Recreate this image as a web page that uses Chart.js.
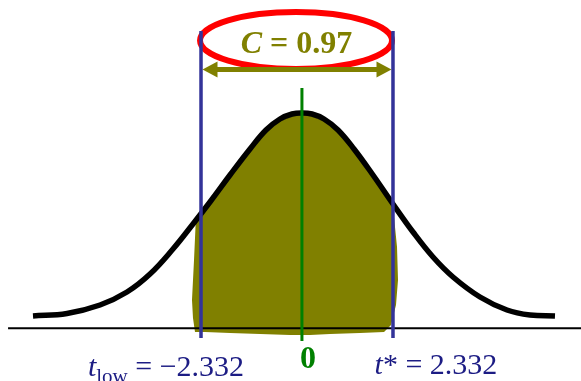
<!DOCTYPE html>
<html><head><meta charset="utf-8">
<script src="https://cdn.jsdelivr.net/npm/chart.js@4"></script>
<style>html,body{margin:0;padding:0;background:#fff;overflow:hidden}#wrap{width:581px;height:381px;position:relative}</style>
</head><body><div id="wrap"><canvas id="c"></canvas></div>
<script>
// ---- data (x in t units, y in density units) ----
const curveT = [-6.414,-5.588,-4.786,-4.130,-3.571,-3.013,-2.527,-2.114,-1.628,-1.142,-0.753,-0.413,-0.121,0.121,0.364,0.656,0.996,1.385,1.846,2.332,2.818,3.304,3.790,4.446,5.102,5.661,6.268];
const curveY = [0.0229,0.0275,0.0433,0.0675,0.1009,0.1474,0.1939,0.2348,0.2849,0.3333,0.3686,0.3890,0.3983,0.4002,0.3983,0.3890,0.3686,0.3333,0.2849,0.2310,0.1790,0.1325,0.0954,0.0582,0.0340,0.0247,0.0229];
const shadeT = [-2.478,-2.527,-2.551,-2.502,-2.454,-2.332,-2.114,-1.628,-1.142,-0.753,-0.413,-0.121,0.121,0.364,0.656,0.996,1.385,1.846,2.332,2.430,2.454,2.405,2.284,2.114,1.531,0.802,0.316,-0.170,-0.899,-1.628,-2.235,-2.478];
const shadeY = [-0.0069,0.0192,0.0526,0.1269,0.2087,0.2124,0.2310,0.2812,0.3296,0.3649,0.3853,0.3946,0.3965,0.3946,0.3853,0.3649,0.3296,0.2812,0.2255,0.1511,0.0898,0.0433,0.0061,-0.0069,-0.0087,-0.0106,-0.0124,-0.0124,-0.0106,-0.0087,-0.0069,-0.0069];
const tLow = -2.332, tStar = 2.332, tZero = 0.12;
const confidence = '0.97';
const tickLabels = ['\u2212' + '2.332', '0', '2.332'];
const labelT = [-3.183, 0.267, 3.377];
const labelY = [-0.0887, -0.0738, -0.0849];
const axisStartT = -7.02;
const markTopY = 0.5526, markBottomY = -0.018;
const zeroTopY = 0.4467, zeroBottomY = -0.0236;
const arrowY = 0.4810;
const ellipse = {t: -0.024, y: 0.5349, rt: 2.332, ry: 0.053};
const cLabel = {t: -0.012, y: 0.5111};

const X_MIN = -7.2157, X_MAX = 6.8999, Y_MIN = -0.09796, Y_MAX = 0.61022;

const zip = (xs, ys) => xs.map((x, i) => ({x, y: ys[i]}));
const SERIF = '"Liberation Serif","Times New Roman",serif';
const OLIVE = '#808000', BLUE = '#333399', NAVY = '#1c1c84', GREEN = '#008000';

function drawParts(ctx, parts, cx, baseY, color) {
  let total = 0;
  parts.forEach(p => { ctx.font = p.font; p.w = ctx.measureText(p.text).width; total += p.w; });
  let x = cx - total / 2;
  ctx.fillStyle = color;
  ctx.textBaseline = 'alphabetic';
  ctx.textAlign = 'left';
  parts.forEach(p => { ctx.font = p.font; ctx.fillText(p.text, x, baseY + (p.dy || 0)); x += p.w; });
}

const decor = {
  id: 'decor',
  beforeDatasetsDraw(chart) {
    const {ctx, scales: {x, y}} = chart;
    ctx.save();
    const cx = x.getPixelForValue(ellipse.t), cy = y.getPixelForValue(ellipse.y);
    const rx = Math.abs(x.getPixelForValue(ellipse.t + ellipse.rt) - cx);
    const ry = Math.abs(y.getPixelForValue(ellipse.y + ellipse.ry) - cy);
    ctx.beginPath();
    ctx.ellipse(cx, cy, rx, ry, 0, 0, Math.PI * 2);
    ctx.strokeStyle = '#ff0000';
    ctx.lineWidth = 6;
    ctx.stroke();
    const ax1 = x.getPixelForValue(tLow) + 1.5, ax2 = x.getPixelForValue(tStar) - 1.5, ay = y.getPixelForValue(arrowY);
    const hl = 15, hw = 8;
    ctx.strokeStyle = OLIVE; ctx.fillStyle = OLIVE; ctx.lineWidth = 5;
    ctx.beginPath(); ctx.moveTo(ax1 + hl - 2, ay); ctx.lineTo(ax2 - hl + 2, ay); ctx.stroke();
    ctx.beginPath(); ctx.moveTo(ax1, ay); ctx.lineTo(ax1 + hl, ay - hw); ctx.lineTo(ax1 + hl, ay + hw); ctx.closePath(); ctx.fill();
    ctx.beginPath(); ctx.moveTo(ax2, ay); ctx.lineTo(ax2 - hl, ay - hw); ctx.lineTo(ax2 - hl, ay + hw); ctx.closePath(); ctx.fill();
    ctx.restore();
  },
  afterDatasetsDraw(chart) {
    const {ctx, scales: {x, y}} = chart;
    ctx.save();
    drawParts(ctx, [
      {text: 'C', font: 'italic bold 32px ' + SERIF},
      {text: ' = ' + confidence, font: 'bold 32px ' + SERIF}
    ], x.getPixelForValue(cLabel.t), y.getPixelForValue(cLabel.y), OLIVE);
    drawParts(ctx, [
      {text: 't', font: 'italic 30px ' + SERIF},
      {text: 'low', font: '21px ' + SERIF, dy: 7},
      {text: ' = ' + tickLabels[0], font: '30px ' + SERIF}
    ], x.getPixelForValue(labelT[0]), y.getPixelForValue(labelY[0]), NAVY);
    drawParts(ctx, [
      {text: tickLabels[1], font: 'bold 32px ' + SERIF}
    ], x.getPixelForValue(labelT[1]), y.getPixelForValue(labelY[1]), GREEN);
    drawParts(ctx, [
      {text: 't', font: 'italic 30px ' + SERIF},
      {text: '* = ' + tickLabels[2], font: '30px ' + SERIF}
    ], x.getPixelForValue(labelT[2]), y.getPixelForValue(labelY[2]), NAVY);
    ctx.restore();
  }
};

new Chart(document.getElementById('c'), {
  type: 'line',
  data: {
    datasets: [
      {label: 'zero', data: [{x: tZero, y: zeroTopY}, {x: tZero, y: zeroBottomY}], borderColor: GREEN, borderWidth: 3, pointRadius: 0, order: 1, fill: false},
      {label: 'tStar', data: [{x: tStar, y: markTopY}, {x: tStar, y: markBottomY}], borderColor: BLUE, borderWidth: 3.5, pointRadius: 0, order: 2, fill: false},
      {label: 'tLow', data: [{x: tLow, y: markTopY}, {x: tLow, y: markBottomY}], borderColor: BLUE, borderWidth: 3.5, pointRadius: 0, order: 2, fill: false},
      {label: 'density', data: zip(curveT, curveY), borderColor: '#000', borderWidth: 5.5, borderCapStyle: 'butt', pointRadius: 0, tension: 0.4, order: 3, fill: false},
      {label: 'axis', data: [{x: axisStartT, y: 0}, {x: X_MAX, y: 0}], borderColor: '#000', borderWidth: 2, pointRadius: 0, order: 4, fill: false},
      {label: 'C region', data: zip(shadeT, shadeY), borderColor: 'rgba(0,0,0,0)', borderWidth: 0, backgroundColor: OLIVE, pointRadius: 0, tension: 0, order: 5, fill: 'shape'}
    ]
  },
  options: {
    responsive: true, maintainAspectRatio: false, animation: false,
    layout: {padding: 0},
    plugins: {legend: {display: false}, tooltip: {enabled: false}},
    events: [],
    scales: {
      x: {type: 'linear', min: X_MIN, max: X_MAX, display: false},
      y: {type: 'linear', min: Y_MIN, max: Y_MAX, display: false}
    }
  },
  plugins: [decor]
});
</script>
</body></html>
